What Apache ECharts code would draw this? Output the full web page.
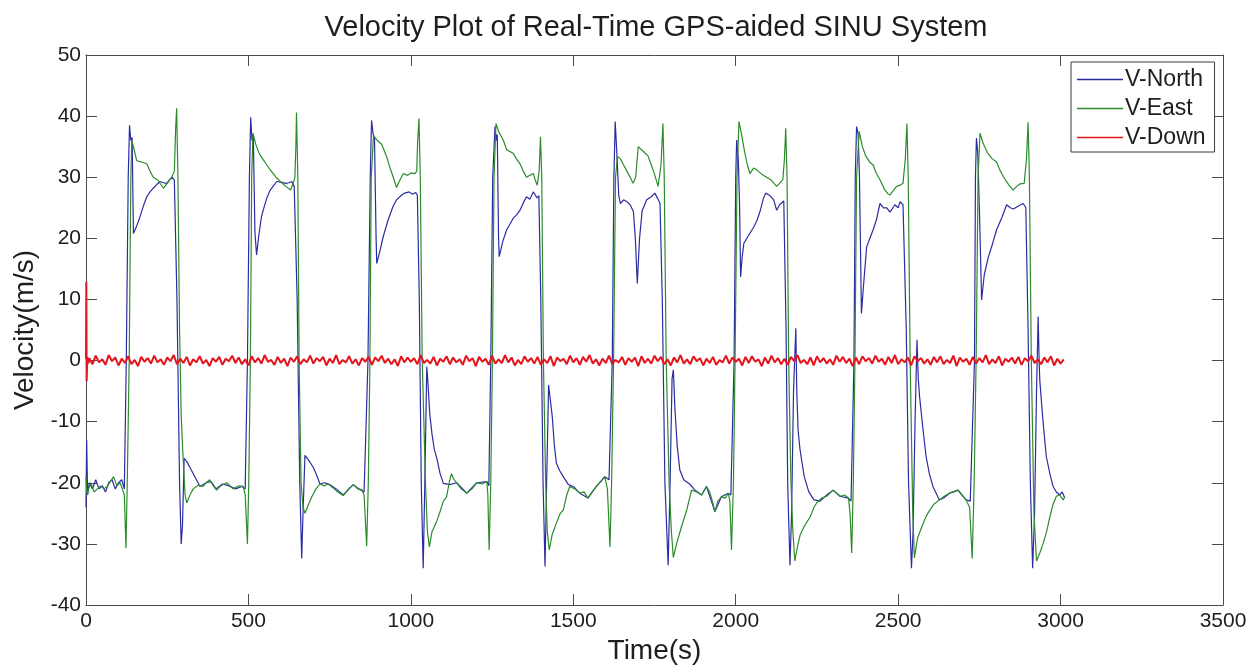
<!DOCTYPE html>
<html>
<head>
<meta charset="utf-8">
<title>Velocity Plot</title>
<script src="https://cdn.jsdelivr.net/npm/echarts@6/dist/echarts.min.js"></script>
<style>
  html, body { margin: 0; padding: 0; background: #fff; }
  #chart { width: 1260px; height: 665px; }
</style>
</head>
<body>
<div id="chart"></div>
<script>
var titleText = 'Velocity Plot of Real-Time GPS-aided SINU System';
var xTicks = [0, 3500, 500];
var yTicks = [-40, 50, 10];

// V-North, [time s, m/s]
var vNorth = [
    [0, -24], [2, -13], [5, -22], [10, -20], [20, -21], [30, -19.5], [40, -21], [50, -20.5], [60, -21.5],
    [70, -20], [80, -19.5], [90, -21], [100, -20], [110, -19.5], [118, -21],
    [124, 0], [130, 30], [134, 38.5], [138, 36], [142, 36.5], [146, 20.8], [156, 22], [166, 23.5], [176, 25.2],
    [187, 26.8], [197, 27.6], [207, 28.2], [218, 28.8], [228, 29.3], [238, 29.1], [248, 29], [258, 29.6], [266, 30], [272, 29.5],
    [280, 10], [288, -20], [293, -30], [297, -27], [302, -16], [310, -16.5], [320, -17.5], [335, -19], [351, -20.6],
    [370, -20], [385, -19.8], [400, -21], [420, -20.2], [440, -20.5], [460, -21], [480, -20.6], [490, -21],
    [497, 0], [503, 30], [507, 39.8], [511, 36], [515, 37], [520, 21], [525, 17.3], [532, 20.5], [540, 23.5], [546, 24.7],
    [556, 26.5], [566, 27.8], [577, 28.6], [587, 29.3], [600, 29.2], [615, 29], [625, 29.1], [633, 29.3], [641, 28.5],
    [650, 10], [658, -20], [664, -32.4], [668, -25], [674, -15.5], [685, -16.3], [700, -17.5], [712, -19], [720, -20.2],
    [735, -20], [750, -20.3], [770, -21], [792, -22], [810, -21], [823, -20.3], [840, -21], [856, -21.5],
    [868, 0], [875, 30], [879, 39.3], [884, 37], [888, 36.5], [893, 20], [895, 15.9], [905, 18], [915, 20.3], [930, 23],
    [945, 25.2], [956, 26.3], [970, 27], [981, 27.4], [995, 27.6], [1005, 27.2], [1015, 27.5], [1020, 27],
    [1026, 10], [1032, -20], [1038, -34], [1043, -20], [1049, -1], [1053, -4], [1058, -8.6], [1065, -12], [1072, -14.5],
    [1080, -16], [1090, -18.5], [1100, -20.1], [1120, -20.3], [1141, -20], [1172, -21.7], [1203, -20], [1234, -19.8], [1240, -20.5],
    [1246, 0], [1252, 30], [1259, 38.3], [1263, 36], [1266, 37], [1270, 20], [1272, 17], [1283, 19.5], [1295, 21.4],
    [1305, 22.3], [1315, 23.3], [1325, 23.8], [1336, 24.6], [1346, 25.8], [1356, 26.8], [1366, 26.4], [1377, 27.6],
    [1384, 27], [1389, 26.6], [1394, 27],
    [1400, 10], [1407, -20], [1413, -33.7], [1418, -20], [1424, -4], [1428, -3.7], [1435, -9], [1442, -14], [1448, -16.8],
    [1458, -18], [1469, -19], [1485, -20.3], [1500, -20.6], [1520, -21.7], [1545, -22.5], [1571, -20.6], [1597, -19], [1610, -19.5],
    [1620, 0], [1625, 30], [1629, 39.1], [1634, 34], [1640, 27], [1645, 25.7], [1655, 26.3], [1665, 26], [1675, 25.5],
    [1685, 24.4], [1691, 20], [1697, 12.6], [1704, 20], [1712, 24.5], [1726, 26.3], [1740, 26.8], [1751, 27.4],
    [1760, 26.5], [1767, 25.7],
    [1774, 10], [1782, -20], [1792, -33.5], [1798, -20], [1804, -3], [1808, -1.5], [1813, -8], [1820, -14], [1828, -17.9],
    [1840, -19.5], [1858, -20.2], [1875, -21.2], [1895, -22], [1910, -20.6], [1936, -24.7], [1956, -22.3], [1977, -21.7], [1985, -22],
    [1995, 0], [2000, 30], [2003, 36.1], [2008, 33], [2012, 25], [2015, 13.7], [2020, 17], [2025, 19.2], [2040, 20.5],
    [2056, 21.9], [2066, 23], [2076, 24.6], [2085, 26.5], [2092, 27.4], [2105, 27], [2117, 26.3], [2126, 24.6],
    [2135, 25.5], [2148, 26.1],
    [2155, 5], [2160, -20], [2167, -33.5], [2172, -25], [2178, -5], [2185, 5.3], [2188, -5], [2192, -11.4], [2198, -14.6],
    [2211, -19], [2225, -21.5], [2241, -22.8], [2260, -23], [2280, -22], [2300, -21.2], [2321, -22.2], [2347, -22.5], [2355, -23],
    [2364, 0], [2368, 30], [2372, 38.3], [2377, 37], [2381, 30], [2387, 7.7], [2393, 12], [2403, 18.6], [2413, 20],
    [2423, 21.4], [2433, 23], [2444, 25.7], [2455, 25], [2465, 25], [2475, 24.3], [2490, 25.5], [2500, 25], [2506, 26], [2515, 25.5],
    [2525, 5], [2532, -20], [2541, -34], [2546, -28], [2552, -10], [2558, 3.4], [2562, -3], [2566, -5.9], [2576, -11],
    [2586, -15.7], [2596, -18.5], [2607, -20.6], [2627, -22.8], [2640, -22.5], [2658, -21.7], [2684, -21.2], [2709, -22.8], [2722, -23],
    [2735, 0], [2738, 30], [2741, 36.4], [2745, 34], [2750, 25], [2757, 9.9], [2765, 14], [2778, 17], [2790, 19],
    [2803, 21.4], [2820, 23.5], [2834, 25.5], [2845, 25], [2855, 24.8], [2870, 25.3], [2885, 25.7], [2893, 25],
    [2900, 5], [2907, -20], [2914, -34], [2920, -25], [2926, -5], [2931, 7.2], [2934, 0], [2936, -3.2], [2946, -10],
    [2956, -15.7], [2967, -18.5], [2977, -20.6], [2987, -21.5], [2997, -22], [3005, -21.5], [3013, -22.5]
];

// V-East, [time s, m/s]
var vEast = [
    [0, -19], [3, -22], [8, -21], [15, -20], [25, -21.5], [35, -21], [45, -20.5], [55, -21], [65, -20.6], [75, -19.8],
    [85, -19], [95, -20.5], [105, -20], [112, -21], [118, -22], [123, -30.7], [127, -20], [133, 0], [138, 30], [141, 36],
    [146, 35], [156, 32.7], [170, 32.5], [187, 32.2], [197, 31], [207, 30], [222, 29.5], [238, 28.2], [250, 29], [264, 30],
    [272, 31], [276, 38], [279, 41.3], [283, 30], [288, 5], [293, -8.9], [298, -15], [305, -22], [310, -23.3], [320, -22],
    [330, -21], [345, -20.4], [360, -20.6], [370, -20], [381, -19.5], [392, -20.5], [402, -21.2], [415, -20.5], [433, -20],
    [445, -20.6], [453, -21], [470, -20.5], [484, -20.6], [490, -22], [497, -30], [501, -20], [506, 0], [510, 30], [514, 37.2],
    [522, 35.5], [533, 33.9], [544, 33], [554, 32.2], [570, 31], [585, 30], [600, 29.2], [615, 28.5], [630, 27.9],
    [638, 29], [643, 30], [646, 35], [648, 40.6], [652, 30], [656, 0], [662, -20], [668, -24], [674, -25], [685, -23.5],
    [695, -22.3], [708, -21], [720, -20.2], [733, -20.5], [746, -20.2], [760, -20.8], [775, -21.5], [792, -22.1], [808, -21],
    [823, -20.3], [836, -21], [849, -21.1], [856, -22], [864, -30.4], [869, -20], [874, 0], [878, 30], [885, 36.8],
    [897, 36], [910, 35.4], [926, 33.3], [936, 31.5], [946, 30], [956, 28.3], [966, 29.5], [977, 30.6], [990, 30.3],
    [1000, 30.7], [1013, 30.6], [1018, 31], [1021, 36], [1025, 39.6], [1029, 30], [1035, 0], [1045, -20], [1051, -28],
    [1057, -30.5], [1065, -28], [1079, -26.4], [1090, -24.7], [1100, -23], [1110, -22.3], [1118, -20], [1125, -18.5],
    [1133, -19.5], [1141, -20], [1155, -21], [1172, -21.7], [1188, -21], [1203, -20], [1220, -20.2], [1234, -19.8],
    [1237, -22], [1241, -31], [1246, -20], [1251, 0], [1256, 30], [1262, 38.8], [1270, 37.5], [1285, 36], [1295, 34.5],
    [1305, 34.2], [1315, 33.9], [1325, 33], [1336, 32.2], [1346, 31], [1356, 30], [1366, 30.3], [1377, 30.6], [1383, 29.5],
    [1389, 28.7], [1395, 31], [1399, 36.6], [1403, 30], [1408, 0], [1415, -20], [1420, -28], [1426, -31], [1435, -28.5],
    [1448, -26.6], [1460, -25], [1469, -24.5], [1480, -22], [1489, -20.6], [1505, -21], [1520, -21.7], [1533, -21.5],
    [1545, -22.5], [1558, -21.5], [1571, -20.6], [1585, -19.8], [1597, -19], [1605, -21], [1613, -30.5], [1618, -20],
    [1624, 0], [1630, 30], [1636, 33.4], [1645, 33], [1655, 32], [1665, 31], [1675, 30], [1684, 29], [1692, 30],
    [1700, 35], [1710, 34.5], [1720, 34], [1730, 33.5], [1740, 32], [1750, 30.5], [1761, 28.5], [1770, 32], [1776, 38.8],
    [1780, 30], [1786, 0], [1795, -20], [1802, -28], [1808, -32.2], [1818, -30], [1833, -27.2], [1849, -24.5],
    [1864, -21.2], [1880, -21.5], [1895, -22], [1910, -20.6], [1920, -21.5], [1928, -23], [1936, -24.7], [1945, -23],
    [1956, -22.3], [1968, -22.5], [1977, -21.7], [1982, -23], [1987, -31], [1993, -20], [1998, 0], [2004, 30], [2010, 39.1],
    [2018, 37], [2028, 34], [2036, 32], [2044, 30.6], [2055, 31.5], [2065, 31.2], [2080, 30.5], [2095, 30], [2110, 29.5],
    [2126, 28.5], [2135, 29], [2145, 29.6], [2150, 33], [2154, 38], [2158, 30], [2163, 0], [2170, -20], [2176, -28],
    [2182, -32.8], [2190, -30.5], [2198, -28.6], [2212, -27], [2229, -25.6], [2241, -24], [2249, -23.3], [2265, -22.5],
    [2280, -22.2], [2300, -21.2], [2321, -22.2], [2335, -22], [2347, -22.5], [2352, -25], [2357, -31.5], [2362, -20],
    [2367, 0], [2372, 30], [2380, 37.5], [2390, 35], [2400, 33.5], [2412, 32.5], [2423, 32], [2433, 30.6], [2445, 29.5],
    [2458, 28], [2468, 27.3], [2475, 27.1], [2485, 27.8], [2495, 28.5], [2506, 28.7], [2515, 29], [2522, 33], [2527, 38.8],
    [2531, 30], [2537, 0], [2545, -25], [2550, -32.3], [2560, -29], [2576, -26.8], [2586, -25.5], [2596, -24.6],
    [2610, -23.5], [2627, -22.8], [2642, -22.2], [2658, -21.7], [2671, -21.5], [2684, -21.2], [2697, -22], [2709, -22.8],
    [2720, -24], [2728, -32.4], [2734, -20], [2740, 0], [2746, 30], [2752, 37.2], [2762, 35.5], [2775, 34], [2790, 33],
    [2803, 32.5], [2813, 31.2], [2825, 30], [2840, 28.8], [2854, 27.9], [2865, 28.5], [2875, 28.9], [2888, 29], [2895, 33],
    [2900, 39], [2904, 30], [2910, 0], [2918, -25], [2926, -32.8], [2936, -31.5], [2946, -30], [2957, -28], [2967, -25.6],
    [2977, -23.5], [2987, -22.2], [2997, -22], [3008, -22.8], [3013, -22.3]
];

// V-Down: start-up transient, then the noise band sampled every 10 s from t = 10 s
var vDownStart = [[0, 0.3], [1, 12.9], [2, -3.4], [4, 0.6], [7, -0.5]];
var vDownStep = 10;
var vDownNoise = [
    0.4, -0.6, 0.8, -0.3, 0.2, -0.7, 0.9, -0.1, 0.5, -0.8, 0.3, -0.4, 0.7, -0.6, 0.1, -0.9, 0.6, -0.2, 0.4, -0.5,
    0.8, -0.3, 0.2, -0.7, 0.5, -0.1, 0.9, -0.6, 0.3, -0.4, 0.6, -0.8, 0.2, -0.3, 0.7, -0.5, 0.1, -0.9, 0.4, -0.2,
    0.6, -0.7, 0.3, -0.1, 0.8, -0.4, 0.5, -0.6, 0.2, -0.8, 0.7, -0.3, 0.4, -0.5, 0.9, -0.2, 0.1, -0.7, 0.6, -0.4,
    0.3, -0.9, 0.5, -0.2, 0.7, -0.6, 0.2, -0.3, 0.8, -0.5, 0.4, -0.1, 0.6, -0.8, 0.3, -0.4, 0.9, -0.6, 0.1, -0.3,
    0.7, -0.5, 0.2, -0.8, 0.4, -0.2, 0.6, -0.7, 0.5, -0.1, 0.8, -0.4, 0.3, -0.6, 0.2, -0.9, 0.7, -0.3, 0.5, -0.2,
    0.4, -0.6, 0.9, -0.4, 0.1, -0.5, 0.6, -0.8, 0.3, -0.2, 0.7, -0.6, 0.5, -0.3, 0.2, -0.7, 0.8, -0.1, 0.4, -0.9,
    0.6, -0.2, 0.3, -0.7, 0.8, -0.5, 0.2, -0.4, 0.9, -0.3, 0.5, -0.8, 0.1, -0.6, 0.7, -0.2, 0.4, -0.5, 0.6, -0.7,
    0.2, -0.4, 0.7, -0.9, 0.5, -0.1, 0.3, -0.6, 0.8, -0.3, 0.4, -0.7, 0.6, -0.2, 0.9, -0.5, 0.2, -0.8, 0.3, -0.4,
    0.8, -0.6, 0.1, -0.3, 0.6, -0.7, 0.4, -0.2, 0.5, -0.9, 0.7, -0.4, 0.3, -0.5, 0.8, -0.1, 0.6, -0.6, 0.2, -0.8,
    0.5, -0.3, 0.9, -0.5, 0.2, -0.6, 0.7, -0.1, 0.4, -0.8, 0.3, -0.4, 0.6, -0.7, 0.1, -0.3, 0.8, -0.5, 0.5, -0.2,
    0.3, -0.8, 0.6, -0.4, 0.7, -0.2, 0.2, -0.9, 0.5, -0.5, 0.8, -0.3, 0.4, -0.6, 0.3, -0.7, 0.6, -0.1, 0.9, -0.4,
    0.1, -0.6, 0.5, -0.8, 0.7, -0.3, 0.4, -0.5, 0.2, -0.7, 0.8, -0.2, 0.6, -0.4, 0.3, -0.9, 0.5, -0.6, 0.7, -0.1,
    0.4, -0.5, 0.8, -0.2, 0.3, -0.7, 0.6, -0.4, 0.9, -0.6, 0.2, -0.3, 0.5, -0.8, 0.7, -0.1, 0.4, -0.5, 0.2, -0.7,
    0.6, -0.3, 0.7, -0.6, 0.1, -0.4, 0.8, -0.9, 0.5, -0.2, 0.3, -0.7, 0.6, -0.5, 0.4, -0.3, 0.9, -0.6, 0.2, -0.4,
    0.7, -0.8, 0.3, -0.2, 0.5, -0.5, 0.6, -0.7, 0.4, -0.1, 0.8, -0.4, 0.2, -0.6, 0.5, -0.3, 0.7, -0.8, 0.3, -0.5,
    0.2
];

var seriesNames = ['V-North', 'V-East', 'V-Down'];
var seriesColors = ['#2b2ba3', '#2c8c2c', '#e3141c'];

var FONT = '"Liberation Sans", Arial, sans-serif';
var TEXT = '#1e1e1e';
var AXIS = '#4a4a4a';

var vDown = vDownStart.concat(vDownNoise.map(function (v, i) {
    return [vDownStep * (i + 1), v];
}));

function valueAxis(range, pos, showLabel, extra) {
    var axis = {
        type: 'value',
        position: pos,
        min: range[0],
        max: range[1],
        interval: range[2],
        splitLine: { show: false },
        axisLine: { show: true, onZero: false, lineStyle: { color: AXIS, width: 1 } },
        axisTick: { show: true, inside: true, length: 11, lineStyle: { color: AXIS, width: 1 } },
        axisLabel: { show: showLabel, color: TEXT, fontFamily: FONT, fontSize: 21 }
    };
    return Object.assign(axis, extra || {});
}

var chart = echarts.init(document.getElementById('chart'), null, { renderer: 'canvas' });

var option = {
    animation: false,
    backgroundColor: '#fff',
    title: {
        text: titleText,
        left: 651,
        top: 8,
        textAlign: 'center',
        textStyle: { fontFamily: FONT, fontSize: 29, fontWeight: 'normal', color: TEXT }
    },
    legend: {
        data: seriesNames,
        orient: 'vertical',
        left: 1071,
        top: 62,
        padding: [6, 9, 3, 6],
        itemGap: 6,
        itemWidth: 46,
        itemHeight: 1.5,
        icon: 'rect',
        backgroundColor: '#fff',
        borderColor: '#3a3a3a',
        borderWidth: 1,
        borderRadius: 0,
        textStyle: { fontFamily: FONT, fontSize: 23, lineHeight: 23, color: TEXT, padding: [0, 0, 0, -3] }
    },
    grid: {
        left: 86,
        right: 37,
        top: 55,
        bottom: 60,
        containLabel: false,
        outerBoundsMode: 'none'
    },
    xAxis: [
        valueAxis(xTicks, 'bottom', true, {
            name: 'Time(s)',
            nameLocation: 'middle',
            nameGap: 32,
            nameTextStyle: { fontFamily: FONT, fontSize: 28, color: TEXT },
            axisLabel: {
                show: true, margin: 6, color: TEXT, fontFamily: FONT, fontSize: 21,
                formatter: function (v) { return String(v); }
            }
        }),
        valueAxis(xTicks, 'top', false)
    ],
    yAxis: [
        valueAxis(yTicks, 'left', true, {
            name: 'Velocity(m/s)',
            nameLocation: 'middle',
            nameRotate: 90,
            nameGap: 47,
            nameTextStyle: { fontFamily: FONT, fontSize: 28, color: TEXT },
            axisLabel: { show: true, margin: 5, color: TEXT, fontFamily: FONT, fontSize: 21 }
        }),
        valueAxis(yTicks, 'right', false)
    ],
    series: [
        {
            name: seriesNames[0],
            type: 'line',
            data: vNorth,
            showSymbol: false,
            symbol: 'none',
            color: seriesColors[0],
            lineStyle: { width: 1.2, color: seriesColors[0] }
        },
        {
            name: seriesNames[1],
            type: 'line',
            data: vEast,
            showSymbol: false,
            symbol: 'none',
            color: seriesColors[1],
            lineStyle: { width: 1.2, color: seriesColors[1] }
        },
        {
            name: seriesNames[2],
            type: 'line',
            data: vDown,
            showSymbol: false,
            symbol: 'none',
            color: seriesColors[2],
            lineStyle: { width: 2, color: seriesColors[2] }
        }
    ]
};

chart.setOption(option);
</script>
</body>
</html>
